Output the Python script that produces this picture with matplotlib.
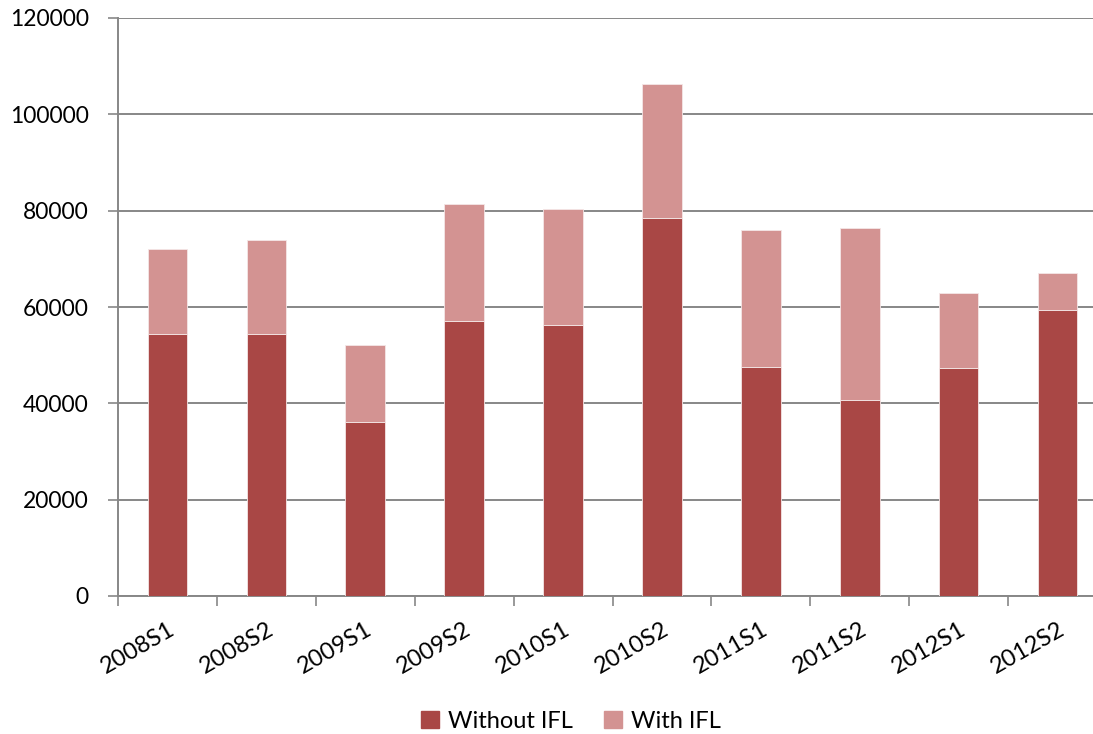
import numpy as np
import matplotlib
matplotlib.use('Agg')
import matplotlib.pyplot as plt
from matplotlib.patches import Patch

periods = ["2008S1", "2008S2", "2009S1", "2009S2", "2010S1",
           "2010S2", "2011S1", "2011S2", "2012S1", "2012S2"]
without_ifl = [54400, 54400, 36100, 57100, 56300, 78400, 47500, 40700, 47300, 59400]
totals = [72000, 73900, 52100, 81400, 80300, 106400, 76000, 76400, 62900, 67100]
with_ifl = [t - w for t, w in zip(totals, without_ifl)]

DARK = "#a94745"
LIGHT = "#d39392"
GRID = "#878787"

plt.rcParams['font.family'] = ['Lato', 'DejaVu Sans']

fig = plt.figure(figsize=(10.93, 7.34), dpi=100)
fig.patch.set_facecolor('white')
# plot area runs a little past the right edge of the canvas
ax = fig.add_axes([118/1093, 1-596/734, 989/1093, 578/734])

x = np.arange(len(periods))
ax.bar(x, without_ifl, width=0.4, color=DARK, edgecolor='#f4e6e6', linewidth=0.6, zorder=3)
ax.bar(x, with_ifl, bottom=without_ifl, width=0.4, color=LIGHT, edgecolor='#f4e6e6',
       linewidth=0.6, zorder=3)

ax.set_xlim(-0.5, len(periods) - 0.5)
ax.set_ylim(0, 120000)
ax.set_yticks(np.arange(0, 120001, 20000))
ax.yaxis.grid(True, color=GRID, linewidth=1.4, zorder=0)
ax.tick_params(axis='y', length=7, width=1.2, color=GRID, labelsize=16.5, pad=14)

# category boundary ticks on the x axis
ax.set_xticks(np.arange(len(periods) + 1) - 0.5)
ax.set_xticklabels([])
ax.tick_params(axis='x', which='major', length=7, width=1.2, color=GRID)
ax.set_xticks(x, minor=True)
ax.set_xticklabels(periods, minor=True, rotation=30, ha='right', rotation_mode='anchor',
                   fontsize=17)
ax.tick_params(axis='x', which='minor', length=0, pad=16)

for s in ['top', 'right']:
    ax.spines[s].set_visible(False)
ax.spines['left'].set_color(GRID)
ax.spines['left'].set_linewidth(1.4)
ax.spines['bottom'].set_color(GRID)
ax.spines['bottom'].set_linewidth(1.4)

handles = [Patch(color=DARK, label="Without IFL"), Patch(color=LIGHT, label="With IFL")]
fig.legend(handles=handles, loc='center', bbox_to_anchor=(571/1093, 1-721/734), ncol=2,
           frameon=False, fontsize=17, handlelength=0.75, handleheight=0.75,
           handletextpad=0.4, columnspacing=1.3)

fig.savefig('out.png', dpi=100, facecolor='white')
